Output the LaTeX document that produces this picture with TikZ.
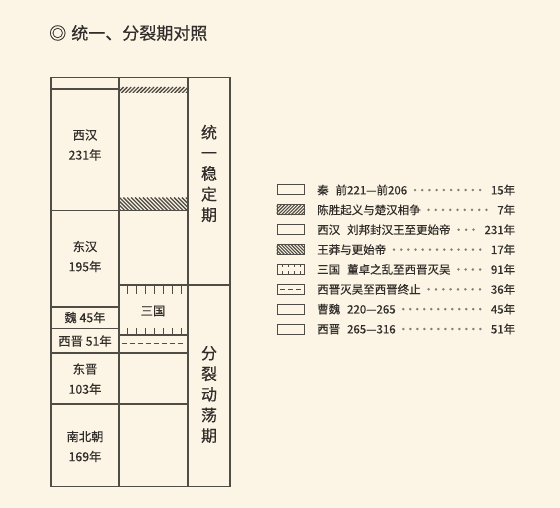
\documentclass[tikz,border=0pt]{standalone}
\usepackage{fontspec}
\newfontfamily\cjk[FakeBold=0.4]{Noto Sans CJK SC}
\usetikzlibrary{positioning}
\definecolor{paper}{RGB}{252,245,229}
\definecolor{ink}{RGB}{80,76,70}
\definecolor{txt}{RGB}{48,45,42}
\definecolor{leader}{RGB}{130,125,118}
\newcommand{\legrow}[2]{\hbox to 198pt{#1\hspace{4pt}{\color{leader}\xleaders\hbox to 6.8pt{\hss·\hss}\hfill}\hspace{7pt}#2}}

\begin{document}
\begin{tikzpicture}[x=1pt, y=-1pt, font=\cjk, text=txt]
\tikzstyle{frame}=[draw=ink, line width=1.3pt]
\tikzstyle{hatch}=[ink, line width=1.3pt]
\tikzstyle{tick}=[ink, line width=1pt]
\tikzstyle{era}=[align=center, font=\cjk\fontsize{12.3}{20}\selectfont]
\tikzstyle{phase}=[align=center, font=\cjk\fontsize{16}{20.6}\selectfont]
\tikzstyle{key}=[draw=ink, line width=1pt, minimum width=27pt, minimum height=10pt, inner sep=0pt]
\tikzstyle{item}=[anchor=west, inner sep=0pt, font=\cjk\fontsize{11.5}{13}\selectfont]
\fill[paper] (0,0) rectangle (560,508);
\useasboundingbox (0,0) rectangle (560,508);
\node[anchor=west, inner sep=0pt, font=\cjk\fontsize{17}{19}\selectfont] (title) at (49,33) {◎\hspace{.3em}统一、分裂期对照};

\begin{scope}
\clip (119,87) rectangle (188,93);
\foreach \x in {110,113.8,...,192} \draw[hatch] (\x,93) -- ++(6,-6);
\end{scope}
\begin{scope}
\clip (119,197.5) rectangle (188,210.5);
\foreach \x in {100,103.9,...,192} \draw[hatch] (\x,197.5) -- ++(13,13);
\end{scope}
\foreach \x in {127,136,...,181} \draw[tick] (\x,285) -- (\x,294) (\x,328) -- (\x,335);
\draw[tick, dash pattern=on 5pt off 3pt] (122,343.5) -- (185,343.5);

\draw[frame] (51,77.5) rectangle (230,486.5);
\draw[frame] (119,77.5) -- (119,486.5) (188,77.5) -- (188,486.5);
\draw[frame] (51,89) -- (119,89) (51,210.5) -- (188,210.5) (51,307) -- (119,307) (51,328.5) -- (119,328.5);
\draw[frame] (119,285) -- (230,285) (119,335) -- (188,335) (51,353) -- (188,353) (51,404) -- (188,404);

\node[era] (xihan) at (85,145) {西汉\\231年};
\node[era] (donghan) at (85,256.5) {东汉\\195年};
\node[era] (wei) at (85,317.5) {魏 45年};
\node[era] (xijin) at (85,341) {西晋 51年};
\node[era] (dongjin) at (85,379) {东晋\\103年};
\node[era] (nanbei) at (85,446.5) {南北朝\\169年};
\node[era] (sanguo) at (153,311) {三国};
\node[phase] (tongyi) at (209,173.5) {统\\一\\稳\\定\\期};
\node[phase] (fenlie) at (209,394.5) {分\\裂\\动\\荡\\期};

\node[key] (k1) at (290.5,190) {}; \node[key] (k2) at (290.5,209.9) {}; \node[key] (k3) at (290.5,229.7) {}; \node[key] (k4) at (290.5,249.6) {};
\node[key] (k5) at (290.5,269.4) {}; \node[key] (k6) at (290.5,289.3) {}; \node[key] (k7) at (290.5,309.1) {}; \node[key] (k8) at (290.5,329) {};
\begin{scope}
\clip (k2.south west) rectangle (k2.north east);
\foreach \x in {268,271.3,...,306} \draw[hatch, line width=1.1pt] (\x,214.9) -- ++(10,-10);
\end{scope}
\begin{scope}
\clip (k4.south west) rectangle (k4.north east);
\foreach \x in {268,271.3,...,306} \draw[hatch, line width=1.1pt] (\x,244.6) -- ++(10,10);
\end{scope}
\foreach \x in {282,288,294,300} \draw[tick, line width=0.8pt] (\x,264.4) -- ++(0,3) (\x,274.4) -- ++(0,-3);
\draw[tick, line width=0.8pt, dash pattern=on 5pt off 3pt] (280,289.3) -- (301,289.3);

\node[item] (t1) at (317,190) {\legrow{秦\hspace{.6em}前221—前206}{15年}};
\node[item] (t2) at (317,209.9) {\legrow{陈胜起义与楚汉相争}{7年}};
\node[item] (t3) at (317,229.7) {\legrow{西汉\hspace{.6em}刘邦封汉王至更始帝}{231年}};
\node[item] (t4) at (317,249.6) {\legrow{王莽与更始帝}{17年}};
\node[item] (t5) at (317,269.4) {\legrow{三国\hspace{.6em}董卓之乱至西晋灭吴}{91年}};
\node[item] (t6) at (317,289.3) {\legrow{西晋灭吴至西晋终止}{36年}};
\node[item] (t7) at (317,309.1) {\legrow{曹魏\hspace{.6em}220—265}{45年}};
\node[item] (t8) at (317,329) {\legrow{西晋\hspace{.6em}265—316}{51年}};
\end{tikzpicture}
\end{document}
